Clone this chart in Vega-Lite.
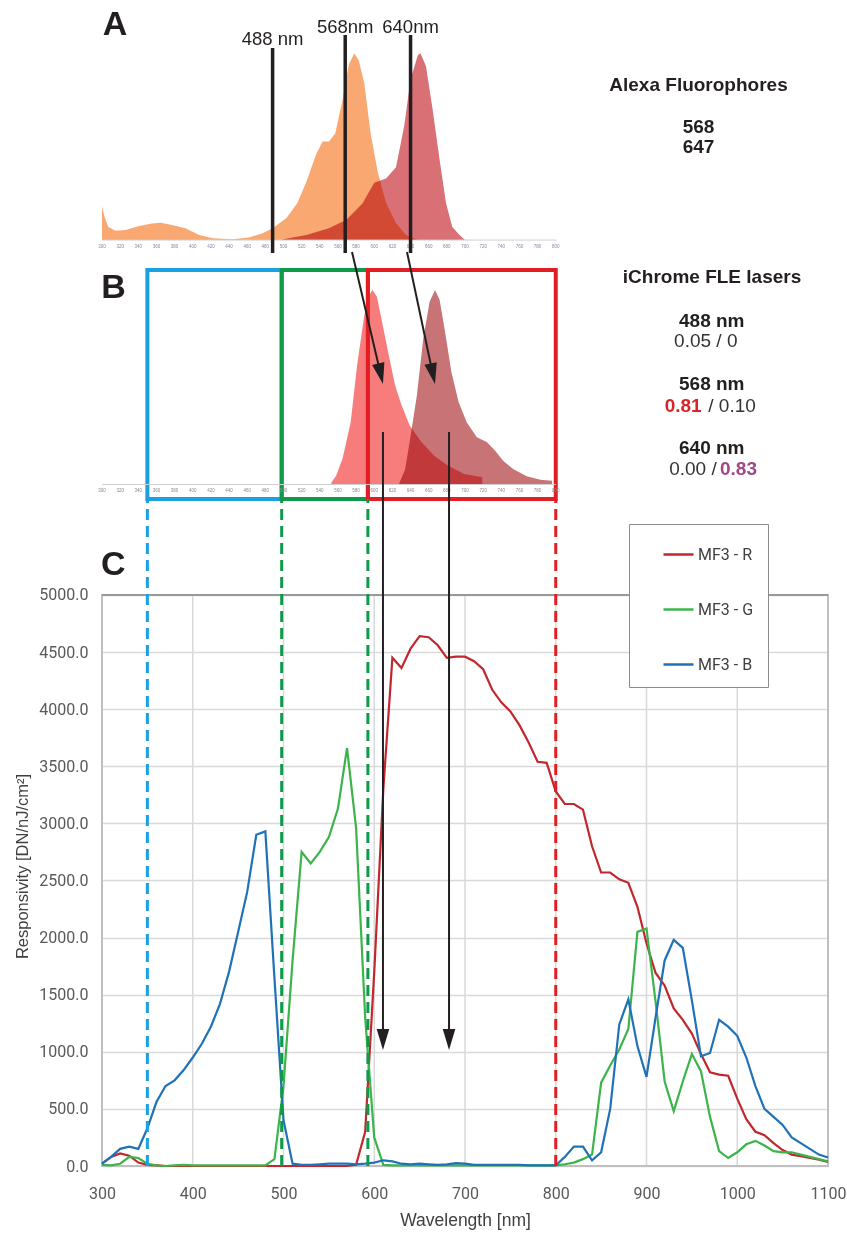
{
"$schema": "https://vega.github.io/schema/vega-lite/v6.json",
"width": 726, "height": 1166,
"autosize": {"type": "none"},
"padding": {"left": 102, "top": 0, "right": 19, "bottom": 68},
"background": "white",
"config": {"view": {"stroke": null}, "font": "Liberation Sans"},
"resolve": {"scale": {"y": "independent"}},
"layer": [
{"data": {"values": [
{"wl":300,"v":18},{"wl":303,"v":12},{"wl":307,"v":7},{"wl":315,"v":5},{"wl":326,"v":5.4},{"wl":341,"v":7.5},{"wl":355,"v":8.8},{"wl":365,"v":9.3},{"wl":377,"v":8},{"wl":392,"v":6.3},{"wl":407,"v":2.7},{"wl":422,"v":0.9},{"wl":444,"v":0.4},{"wl":462,"v":1.4},{"wl":477,"v":3.6},{"wl":488,"v":6.3},{"wl":503,"v":11.6},{"wl":515,"v":19.6},{"wl":525,"v":31},{"wl":536,"v":46},{"wl":543,"v":52.7},{"wl":550,"v":52.7},{"wl":557,"v":57},{"wl":565,"v":75},{"wl":572,"v":94},{"wl":578,"v":100},{"wl":583,"v":96},{"wl":589,"v":84},{"wl":596,"v":57},{"wl":604,"v":36},{"wl":613,"v":20},{"wl":624,"v":9},{"wl":635,"v":2.7},{"wl":646,"v":0.4},{"wl":650,"v":0}]},
 "mark": {"type": "area", "color": "#f8a870", "opacity": 1},
 "encoding": {"x": {"field": "wl", "type": "quantitative"},
  "y": {"field": "v", "type": "quantitative", "scale": {"domain": [-495.96, 128.55], "nice": false, "zero": false}, "axis": null}}},
{"data": {"values": [
{"wl":499,"v":0},{"wl":500,"v":0.4},{"wl":525,"v":2.7},{"wl":550,"v":6.3},{"wl":569,"v":10.7},{"wl":587,"v":19.6},{"wl":600,"v":30.7},{"wl":613,"v":33},{"wl":624,"v":39},{"wl":633,"v":61},{"wl":640,"v":86},{"wl":648,"v":99},{"wl":651,"v":100},{"wl":657,"v":93},{"wl":664,"v":71},{"wl":672,"v":43},{"wl":679,"v":20},{"wl":686,"v":7},{"wl":694,"v":2.7},{"wl":699,"v":0.4},{"wl":700,"v":0}]},
 "mark": {"type": "area", "color": "#d87076", "opacity": 1, "blend": "multiply"},
 "encoding": {"x": {"field": "wl", "type": "quantitative"},
  "y": {"field": "v", "type": "quantitative", "scale": {"domain": [-495.96, 128.55], "nice": false, "zero": false}, "axis": null}}},
{"data": {"values": [
{"wl":552,"v":0},{"wl":553,"v":1.4},{"wl":558,"v":4.8},{"wl":565,"v":13.4},{"wl":574,"v":32},{"wl":581,"v":61},{"wl":589,"v":87},{"wl":594,"v":97},{"wl":598,"v":100},{"wl":603,"v":96.6},{"wl":608,"v":85},{"wl":616,"v":66.6},{"wl":623,"v":51},{"wl":630,"v":41},{"wl":639,"v":30.5},{"wl":652,"v":22},{"wl":666,"v":15},{"wl":681,"v":10},{"wl":699,"v":5.7},{"wl":719,"v":4}]},
 "mark": {"type": "area", "color": "#f77d7d", "opacity": 1},
 "encoding": {"x": {"field": "wl", "type": "quantitative"},
  "y": {"field": "v", "type": "quantitative", "scale": {"domain": [-349.23, 248.72], "nice": false, "zero": false}, "axis": null}}},
{"data": {"values": [
{"wl":627,"v":0},{"wl":628,"v":1.4},{"wl":634,"v":8},{"wl":639,"v":22},{"wl":647,"v":46},{"wl":654,"v":75},{"wl":661,"v":94},{"wl":667,"v":100},{"wl":672,"v":95},{"wl":678,"v":78.6},{"wl":685,"v":58},{"wl":693,"v":42.5},{"wl":702,"v":32},{"wl":713,"v":24.5},{"wl":724,"v":22},{"wl":733,"v":17.7},{"wl":742,"v":12.5},{"wl":753,"v":8.2},{"wl":768,"v":4.5},{"wl":783,"v":2.7},{"wl":796,"v":2.2}]},
 "mark": {"type": "area", "color": "#c87376", "opacity": 1, "blend": "multiply"},
 "encoding": {"x": {"field": "wl", "type": "quantitative"},
  "y": {"field": "v", "type": "quantitative", "scale": {"domain": [-349.23, 248.72], "nice": false, "zero": false}, "axis": null}}},
{"layer": [
 {"data": {"values": [{"wl":400},{"wl":500},{"wl":600},{"wl":700},{"wl":800},{"wl":900},{"wl":1000}]},
  "mark": {"type": "rule", "color": "#d9d9d9", "strokeWidth": 1.5},
  "encoding": {"x": {"field": "wl", "type": "quantitative"}, "y": {"datum": 0, "type": "quantitative"}, "y2": {"datum": 5000}}},
 {"data": {"values": [{}]},
  "mark": {"type": "rect", "filled": false, "color": "#bfbfbf", "strokeWidth": 2},
  "encoding": {"x": {"datum": 300, "type": "quantitative"}, "x2": {"datum": 1100}, "y": {"datum": 0, "type": "quantitative"}, "y2": {"datum": 5000}}},
 {"data": {"values": [{}]},
  "mark": {"type": "rule", "color": "#8c8c8c", "strokeWidth": 1.5},
  "encoding": {"x": {"datum": 300, "type": "quantitative"}, "x2": {"datum": 1100}, "y": {"datum": 5000, "type": "quantitative"}}},
 {"data": {"values": [
{"wl":300,"R":20,"G":10,"B":20},{"wl":310,"R":80,"G":5,"B":80},{"wl":320,"R":110,"G":20,"B":150},{"wl":330,"R":90,"G":80,"B":170},{"wl":340,"R":30,"G":70,"B":150},{"wl":350,"R":10,"G":20,"B":330},{"wl":360,"R":5,"G":5,"B":560},{"wl":370,"R":0,"G":0,"B":700},{"wl":380,"R":0,"G":5,"B":750},{"wl":390,"R":0,"G":10,"B":840},{"wl":400,"R":0,"G":5,"B":950},{"wl":410,"R":0,"G":5,"B":1070},{"wl":420,"R":0,"G":5,"B":1220},{"wl":430,"R":0,"G":5,"B":1420},{"wl":440,"R":0,"G":5,"B":1700},{"wl":450,"R":0,"G":5,"B":2050},{"wl":460,"R":0,"G":5,"B":2400},{"wl":470,"R":0,"G":5,"B":2900},{"wl":480,"R":0,"G":5,"B":2930},{"wl":490,"R":0,"G":60,"B":1650},{"wl":500,"R":0,"G":700,"B":400},{"wl":510,"R":0,"G":1800,"B":20},{"wl":520,"R":0,"G":2750,"B":10},{"wl":530,"R":0,"G":2650,"B":10},{"wl":540,"R":0,"G":2750,"B":15},{"wl":550,"R":0,"G":2880,"B":20},{"wl":560,"R":0,"G":3130,"B":20},{"wl":570,"R":0,"G":3660,"B":20},{"wl":580,"R":10,"G":2960,"B":15},{"wl":590,"R":300,"G":1300,"B":20},{"wl":600,"R":1700,"G":250,"B":30},{"wl":610,"R":3300,"G":10,"B":50},{"wl":620,"R":4450,"G":5,"B":40},{"wl":630,"R":4360,"G":5,"B":20},{"wl":640,"R":4530,"G":5,"B":15},{"wl":650,"R":4640,"G":5,"B":20},{"wl":660,"R":4630,"G":5,"B":15},{"wl":670,"R":4560,"G":5,"B":10},{"wl":680,"R":4450,"G":5,"B":15},{"wl":690,"R":4460,"G":5,"B":25},{"wl":700,"R":4460,"G":5,"B":20},{"wl":710,"R":4420,"G":5,"B":10},{"wl":720,"R":4350,"G":5,"B":10},{"wl":730,"R":4170,"G":5,"B":10},{"wl":740,"R":4060,"G":5,"B":10},{"wl":750,"R":3980,"G":5,"B":10},{"wl":760,"R":3860,"G":5,"B":10},{"wl":770,"R":3710,"G":5,"B":5},{"wl":780,"R":3540,"G":5,"B":5},{"wl":790,"R":3530,"G":5,"B":5},{"wl":800,"R":3280,"G":5,"B":5},{"wl":810,"R":3170,"G":15,"B":80},{"wl":820,"R":3170,"G":30,"B":170},{"wl":830,"R":3120,"G":60,"B":170},{"wl":840,"R":2800,"G":100,"B":50},{"wl":850,"R":2570,"G":730,"B":120},{"wl":860,"R":2570,"G":880,"B":500},{"wl":870,"R":2510,"G":1020,"B":1240},{"wl":880,"R":2480,"G":1200,"B":1460},{"wl":890,"R":2270,"G":2050,"B":1050},{"wl":900,"R":1950,"G":2080,"B":780},{"wl":910,"R":1690,"G":1440,"B":1300},{"wl":920,"R":1580,"G":740,"B":1800},{"wl":930,"R":1380,"G":480,"B":1980},{"wl":940,"R":1280,"G":740,"B":1910},{"wl":950,"R":1160,"G":980,"B":1450},{"wl":960,"R":980,"G":830,"B":960},{"wl":970,"R":820,"G":430,"B":990},{"wl":980,"R":800,"G":130,"B":1280},{"wl":990,"R":790,"G":70,"B":1220},{"wl":1000,"R":590,"G":120,"B":1140},{"wl":1010,"R":410,"G":190,"B":950},{"wl":1020,"R":300,"G":220,"B":700},{"wl":1030,"R":270,"G":180,"B":500},{"wl":1040,"R":200,"G":130,"B":430},{"wl":1050,"R":140,"G":120,"B":360},{"wl":1060,"R":100,"G":120,"B":250},{"wl":1070,"R":85,"G":100,"B":200},{"wl":1080,"R":70,"G":80,"B":150},{"wl":1090,"R":55,"G":60,"B":100},{"wl":1100,"R":35,"G":40,"B":75}]},
  "transform": [{"fold": ["R", "G", "B"], "as": ["channel", "value"]}],
  "mark": {"type": "line", "strokeWidth": 2.2},
  "encoding": {
   "x": {"field": "wl", "type": "quantitative", "scale": {"domain": [300, 1100], "nice": false, "zero": false},
    "axis": {"orient": "bottom", "values": [300,400,500,600,700,800,900,1000,1100], "format": "d", "grid": false, "domain": false, "ticks": false, "labelFlush": false, "labelOverlap": false, "labelPadding": 19, "labelFont": "Roboto", "labelFontSize": 16, "labelColor": "#595959", "title": "Wavelength [nm]", "titleFont": "Liberation Sans", "titleFontWeight": "normal", "titleFontSize": 17.5, "titleColor": "#404040", "titlePadding": 10}},
   "y": {"field": "value", "type": "quantitative", "scale": {"domain": [0, 10210], "nice": false, "zero": false},
    "axis": {"orient": "left", "values": [0,500,1000,1500,2000,2500,3000,3500,4000,4500,5000], "format": ".1f", "grid": true, "gridColor": "#d9d9d9", "gridWidth": 1.5, "domain": false, "ticks": false, "labelPadding": 14, "labelFont": "Roboto", "labelFontSize": 16, "labelColor": "#595959", "title": "Responsivity [DN/nJ/cm²]", "titleFont": "Liberation Sans", "titleFontWeight": "normal", "titleFontSize": 16.5, "titleColor": "#404040", "titleX": -80, "titleY": 866, "titleAlign": "center", "titleBaseline": "middle"}},
   "color": {"field": "channel", "type": "nominal", "scale": {"domain": ["R", "G", "B"], "range": ["#c0282e", "#3cb44b", "#1f72b8"]},
    "legend": {"orient": "none", "legendX": 527, "legendY": 524, "title": null, "fillColor": "white", "strokeColor": "#8c8c8c", "padding": 14, "symbolType": "stroke", "symbolSize": 900, "symbolStrokeWidth": 2.5, "symbolOffset": 19, "labelOffset": 3, "rowPadding": 30, "labelFont": "Roboto", "labelFontSize": 16, "labelColor": "#404040", "labelExpr": "'MF3 - ' + datum.label + '\u00a0\u00a0\u00a0'"}}}},
 {"data": {"values": [{}]}, "mark": {"type": "rect", "filled": false, "color": "#1ba1e2", "strokeWidth": 4},
  "encoding": {"x": {"datum": 350, "type": "quantitative"}, "x2": {"datum": 498}, "y": {"datum": 5840.5, "type": "quantitative"}, "y2": {"datum": 7845.7}}},
 {"data": {"values": [{}]}, "mark": {"type": "rect", "filled": false, "color": "#0f9a4a", "strokeWidth": 4},
  "encoding": {"x": {"datum": 498, "type": "quantitative"}, "x2": {"datum": 593}, "y": {"datum": 5840.5, "type": "quantitative"}, "y2": {"datum": 7845.7}}},
 {"data": {"values": [{}]}, "mark": {"type": "rect", "filled": false, "color": "#e21e24", "strokeWidth": 4},
  "encoding": {"x": {"datum": 593, "type": "quantitative"}, "x2": {"datum": 800}, "y": {"datum": 5840.5, "type": "quantitative"}, "y2": {"datum": 7845.7}}},
 {"data": {"values": [{}]}, "mark": {"type": "rule", "color": "#1ba1e2", "strokeWidth": 3, "strokeDash": [11, 6]},
  "encoding": {"x": {"datum": 350, "type": "quantitative"}, "y": {"datum": 0, "type": "quantitative"}, "y2": {"datum": 5840.5}}},
 {"data": {"values": [{"wl": 498}, {"wl": 593}]}, "mark": {"type": "rule", "color": "#0f9a4a", "strokeWidth": 3, "strokeDash": [11, 6]},
  "encoding": {"x": {"field": "wl", "type": "quantitative"}, "y": {"datum": 0, "type": "quantitative"}, "y2": {"datum": 5840.5}}},
 {"data": {"values": [{}]}, "mark": {"type": "rule", "color": "#e21e24", "strokeWidth": 3, "strokeDash": [11, 6]},
  "encoding": {"x": {"datum": 800, "type": "quantitative"}, "y": {"datum": 0, "type": "quantitative"}, "y2": {"datum": 5840.5}}},
 {"data": {"values": [{}]}, "mark": {"type": "rule", "color": "#d0d0d0", "strokeWidth": 1},
  "encoding": {"x": {"datum": 300, "type": "quantitative"}, "x2": {"datum": 801}, "y": {"datum": 8108, "type": "quantitative"}}},
 {"data": {"values": [{}]}, "mark": {"type": "rule", "color": "#d0d0d0", "strokeWidth": 1},
  "encoding": {"x": {"datum": 300, "type": "quantitative"}, "x2": {"datum": 800}, "y": {"datum": 5967.5, "type": "quantitative"}}},
 {"data": {"values": [{"wl":300},{"wl":320},{"wl":340},{"wl":360},{"wl":380},{"wl":400},{"wl":420},{"wl":440},{"wl":460},{"wl":480},{"wl":500},{"wl":520},{"wl":540},{"wl":560},{"wl":580},{"wl":600},{"wl":620},{"wl":640},{"wl":660},{"wl":680},{"wl":700},{"wl":720},{"wl":740},{"wl":760},{"wl":780},{"wl":800}]},
  "mark": {"type": "text", "fontSize": 4.5, "color": "#7f8aa8", "baseline": "middle"},
  "encoding": {"x": {"field": "wl", "type": "quantitative"}, "y": {"datum": 8042.8, "type": "quantitative"}, "text": {"field": "wl", "type": "quantitative"}}},
 {"data": {"values": [{"wl":300},{"wl":320},{"wl":340},{"wl":360},{"wl":380},{"wl":400},{"wl":420},{"wl":440},{"wl":460},{"wl":480},{"wl":500},{"wl":520},{"wl":540},{"wl":560},{"wl":580},{"wl":600},{"wl":620},{"wl":640},{"wl":660},{"wl":680},{"wl":700},{"wl":720},{"wl":740},{"wl":760},{"wl":780},{"wl":800}]},
  "mark": {"type": "text", "fontSize": 4.5, "color": "#8a8a8a", "baseline": "middle"},
  "encoding": {"x": {"field": "wl", "type": "quantitative"}, "y": {"datum": 5910.6, "type": "quantitative"}, "text": {"field": "wl", "type": "quantitative"}}},
 {"data": {"values": [{"wl":488,"top":9789.7,"ly":9815.9,"label":"488 nm"},{"wl":568,"top":9903.5,"ly":9923.6,"label":"568nm"},{"wl":640,"top":9903.5,"ly":9923.6,"label":"640nm"}]},
  "layer": [
   {"mark": {"type": "rule", "color": "#231f20", "strokeWidth": 3.5},
    "encoding": {"x": {"field": "wl", "type": "quantitative"}, "y": {"field": "top", "type": "quantitative"}, "y2": {"datum": 7994.6}}},
   {"mark": {"type": "text", "fontSize": 18.5, "color": "#231f20", "align": "center", "baseline": "alphabetic"},
    "encoding": {"x": {"field": "wl", "type": "quantitative"}, "y": {"field": "ly", "type": "quantitative"}, "text": {"field": "label", "type": "nominal"}}}]},
 {"data": {"values": [
   {"x0":575.5,"y0":8003.4,"xe":607.1,"ye":6932.8,"xt":609.6,"yt":6847.5,"ang":347},
   {"x0":636.1,"y0":8003.4,"xe":664.6,"ye":6933.2,"xt":666.9,"yt":6847.5,"ang":348},
   {"x0":609.6,"y0":6427.2,"xe":609.6,"ye":1103.3,"xt":609.6,"yt":1015.7,"ang":0},
   {"x0":682.4,"y0":6427.2,"xe":682.4,"ye":1103.3,"xt":682.4,"yt":1015.7,"ang":0}]},
  "layer": [
   {"mark": {"type": "rule", "color": "#231f20", "strokeWidth": 2},
    "encoding": {"x": {"field": "x0", "type": "quantitative"}, "y": {"field": "y0", "type": "quantitative"}, "x2": {"field": "xe"}, "y2": {"field": "ye"}}},
   {"mark": {"type": "point", "shape": "M0,0L-0.3,-1L0.3,-1Z", "filled": true, "size": 1764, "color": "#231f20", "opacity": 1},
    "encoding": {"x": {"field": "xt", "type": "quantitative"}, "y": {"field": "yt", "type": "quantitative"}, "angle": {"field": "ang", "type": "quantitative", "scale": null}}}]},
 {"data": {"values": [{"wl":314.3,"y":9903.5,"t":"A"},{"wl":312.7,"y":7600.6,"t":"B"},{"wl":312.5,"y":5175.0,"t":"C"}]},
  "mark": {"type": "text", "fontSize": 34, "fontWeight": "bold", "color": "#231f20", "align": "center", "baseline": "alphabetic"},
  "encoding": {"x": {"field": "wl", "type": "quantitative"}, "y": {"field": "y", "type": "quantitative"}, "text": {"field": "t", "type": "nominal"}}},
 {"data": {"values": [{"wl":957.3,"y":9415.8,"t":"Alexa Fluorophores"},{"wl":957.3,"y":9048.0,"t":"568"},{"wl":957.3,"y":8870.2,"t":"647"},{"wl":972.2,"y":7734.5,"t":"iChrome FLE lasers"},{"wl":971.9,"y":7349.2,"t":"488 nm"},{"wl":971.9,"y":6795.0,"t":"568 nm"},{"wl":971.9,"y":6231.9,"t":"640 nm"}]},
  "mark": {"type": "text", "fontSize": 19, "fontWeight": "bold", "color": "#231f20", "align": "center", "baseline": "alphabetic"},
  "encoding": {"x": {"field": "wl", "type": "quantitative"}, "y": {"field": "y", "type": "quantitative"}, "text": {"field": "t", "type": "nominal"}}},
 {"data": {"values": [{"wl":965.3,"y":7168.9,"t":"0.05 / 0"}]},
  "mark": {"type": "text", "fontSize": 19, "color": "#333333", "align": "center", "baseline": "alphabetic"},
  "encoding": {"x": {"field": "wl", "type": "quantitative"}, "y": {"field": "y", "type": "quantitative"}, "text": {"field": "t", "type": "nominal"}}},
 {"data": {"values": [{"wl":960.8,"y":6605.0,"t":"0.81"}]},
  "mark": {"type": "text", "fontSize": 19, "fontWeight": "bold", "color": "#d7262b", "align": "right", "baseline": "alphabetic"},
  "encoding": {"x": {"field": "wl", "type": "quantitative"}, "y": {"field": "y", "type": "quantitative"}, "text": {"field": "t", "type": "nominal"}}},
 {"data": {"values": [{"wl":968.1,"y":6605.0,"t":"/ 0.10"}]},
  "mark": {"type": "text", "fontSize": 19, "color": "#333333", "align": "left", "baseline": "alphabetic"},
  "encoding": {"x": {"field": "wl", "type": "quantitative"}, "y": {"field": "y", "type": "quantitative"}, "text": {"field": "t", "type": "nominal"}}},
 {"data": {"values": [{"wl":977.4,"y":6050.7,"t":"0.00 /"}]},
  "mark": {"type": "text", "fontSize": 19, "color": "#333333", "align": "right", "baseline": "alphabetic"},
  "encoding": {"x": {"field": "wl", "type": "quantitative"}, "y": {"field": "y", "type": "quantitative"}, "text": {"field": "t", "type": "nominal"}}},
 {"data": {"values": [{"wl":981.0,"y":6050.7,"t":"0.83"}]},
  "mark": {"type": "text", "fontSize": 19, "fontWeight": "bold", "color": "#a0478a", "align": "left", "baseline": "alphabetic"},
  "encoding": {"x": {"field": "wl", "type": "quantitative"}, "y": {"field": "y", "type": "quantitative"}, "text": {"field": "t", "type": "nominal"}}}
]}
]}
